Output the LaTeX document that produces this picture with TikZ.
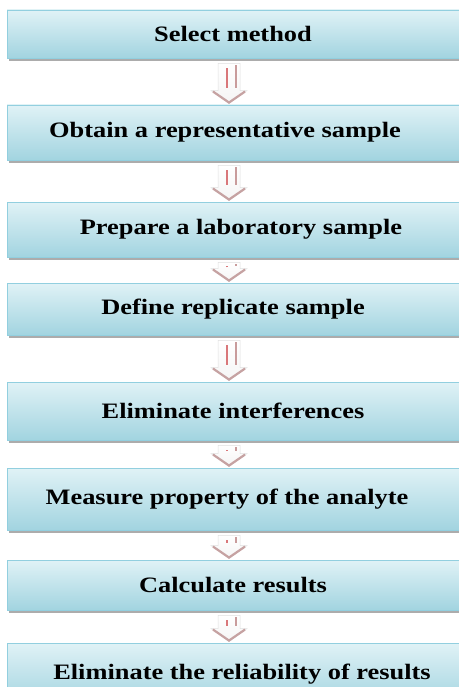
\documentclass[tikz,border=0pt]{standalone}
\usepackage{fontspec}
\setmainfont{Liberation Serif}[FakeStretch=1.2]
\usepackage{tikz}
\usetikzlibrary{calc, shadows}
\definecolor{BoxTop}{HTML}{E0F2F6}
\definecolor{BoxBottom}{HTML}{A2D4E0}
\definecolor{BoxLine}{HTML}{92CFDF}
\definecolor{ArrowRed}{HTML}{D9777A}
\definecolor{ArrowHead}{HTML}{C6A2A2}

\tikzset{
  stepbox/.style={rectangle, draw=BoxLine, line width=0.9pt,
    top color=BoxTop, bottom color=BoxBottom, minimum width=480pt,
    inner sep=0pt, font=\bfseries\fontsize{22}{26}\selectfont,
    execute at begin node=\hspace*{-28pt},
    drop shadow={shadow xshift=2pt, shadow yshift=-3pt, fill=gray!65, opacity=1}},
  arrowbody/.style={draw=gray!25, line width=0.5pt, top color=white, bottom color=gray!8}
}

% block arrow from box #1 down to box #2
\newcommand\flowarrow[2]{%
  \path[arrowbody] let \p1=($(#1.south)+(-18,0)$), \p2=(#2.north) in
    (\x1-11pt,\y1-5pt) -- (\x1+11pt,\y1-5pt) -- (\x1+11pt,\y2+14pt) --
    (\x1+18pt,\y2+14pt) -- (\x1,\y2+1pt) -- (\x1-18pt,\y2+14pt) --
    (\x1-11pt,\y2+14pt) -- cycle;
  \draw[ArrowHead, line width=2.2pt] let \p1=($(#1.south)+(-18,0)$), \p2=(#2.north) in
    (\x1+16pt,\y2+13pt) -- (\x1,\y2+2pt) -- (\x1-16pt,\y2+13pt);
  \draw[ArrowRed, line width=1.3pt] let \p1=($(#1.south)+(-18,0)$), \p2=(#2.north) in
    (\x1-2pt,\y1-10pt) -- (\x1-2pt,\y2+17pt);
  \draw[gray!70!red!60, line width=1.1pt] let \p1=($(#1.south)+(-18,0)$), \p2=(#2.north) in
    (\x1+7pt,\y1-7pt) -- (\x1+7pt,\y2+17pt);
}

\begin{document}
\begin{tikzpicture}[x=1pt, y=-1pt]
\useasboundingbox (0,0) rectangle (458,687);

\node[stepbox, minimum height=48pt] (select) at (247,34) {Select method};
\node[stepbox, minimum height=55pt] (obtain) at (247,132.5) {\hspace*{-16pt}Obtain a representative sample};
\node[stepbox, minimum height=55pt] (prepare) at (247,229.5) {\hspace*{16pt}Prepare a laboratory sample};
\node[stepbox, minimum height=52pt] (define) at (247,309) {Define replicate sample};
\node[stepbox, minimum height=58pt] (interf) at (247,411) {Eliminate interferences};
\node[stepbox, minimum height=62pt] (measure) at (247,499) {\hspace*{-12pt}Measure property of the analyte};
\node[stepbox, minimum height=50pt] (calc) at (247,585) {Calculate results};
\node[stepbox, minimum height=62pt] (reliab) at (247,674) {\hspace*{18pt}Eliminate the reliability of results};

\flowarrow{select}{obtain}
\flowarrow{obtain}{prepare}
\flowarrow{prepare}{define}
\flowarrow{define}{interf}
\flowarrow{interf}{measure}
\flowarrow{measure}{calc}
\flowarrow{calc}{reliab}
\end{tikzpicture}
\end{document}
